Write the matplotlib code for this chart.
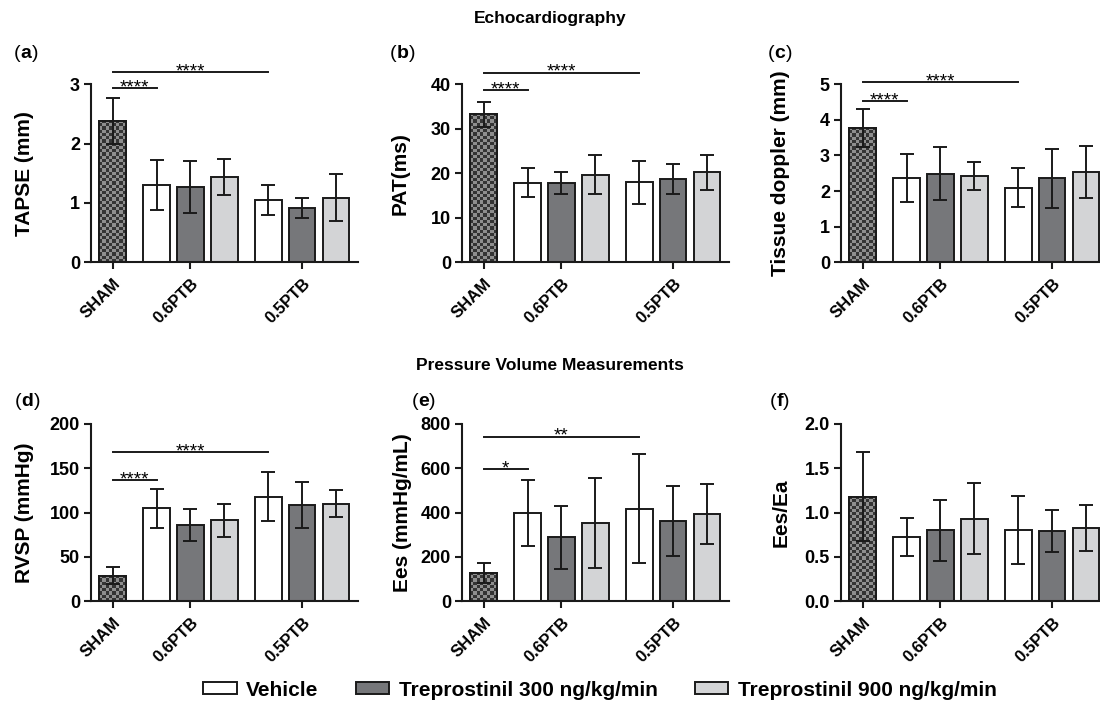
import matplotlib
matplotlib.use("Agg")
import numpy as np
import matplotlib.pyplot as plt
from matplotlib.patches import Patch
from matplotlib.colors import ListedColormap

plt.rcParams['font.family'] = ['Liberation Sans', 'DejaVu Sans']

groups = ['SHAM', '0.6PTB', '0.5PTB']
series = ['Vehicle', 'Treprostinil 300 ng/kg/min', 'Treprostinil 900 ng/kg/min']

# order: SHAM, 0.6PTB (veh, 300, 900), 0.5PTB (veh, 300, 900)
tapse_mean = [2.38, 1.30, 1.27, 1.44, 1.05, 0.92, 1.09]
tapse_err = [0.39, 0.42, 0.44, 0.30, 0.26, 0.17, 0.39]
pat_mean = [33.3, 17.9, 17.8, 19.7, 18.0, 18.8, 20.2]
pat_err = [2.8, 3.2, 2.5, 4.3, 4.85, 3.35, 3.95]
td_mean = [3.77, 2.36, 2.49, 2.43, 2.10, 2.36, 2.53]
td_err = [0.545, 0.675, 0.74, 0.395, 0.55, 0.83, 0.735]
rvsp_mean = [29, 105, 86, 91, 118, 108, 110]
rvsp_err = [9.5, 22, 18.5, 19, 28, 26, 15]
ees_mean = [128, 398, 288, 352, 417, 362, 394]
ees_err = [44, 148, 143, 202, 246, 156, 134]
eesea_mean = [1.18, 0.72, 0.80, 0.93, 0.80, 0.79, 0.83]
eesea_err = [0.50, 0.215, 0.345, 0.40, 0.385, 0.24, 0.26]

panels = [
    dict(tag='a', ylabel='TAPSE (mm)', mean=tapse_mean, err=tapse_err, ymax=3, yticks=[0, 1, 2, 3],
         sig=[(2.94, '****'), (3.2, '****')], fmt='{:.0f}'),
    dict(tag='b', ylabel='PAT(ms)', mean=pat_mean, err=pat_err, ymax=40, yticks=[0, 10, 20, 30, 40],
         sig=[(38.7, '****'), (42.6, '****')], fmt='{:.0f}'),
    dict(tag='c', ylabel='Tissue doppler (mm)', mean=td_mean, err=td_err, ymax=5, yticks=[0, 1, 2, 3, 4, 5],
         sig=[(4.53, '****'), (5.06, '****')], fmt='{:.0f}'),
    dict(tag='d', ylabel='RVSP (mmHg)', mean=rvsp_mean, err=rvsp_err, ymax=200, yticks=[0, 50, 100, 150, 200],
         sig=[(136.6, '****'), (168, '****')], fmt='{:.0f}'),
    dict(tag='e', ylabel='Ees (mmHg/mL)', mean=ees_mean, err=ees_err, ymax=800, yticks=[0, 200, 400, 600, 800],
         sig=[(594, '*'), (741, '**')], fmt='{:.0f}'),
    dict(tag='f', ylabel='Ees/Ea', mean=eesea_mean, err=eesea_err, ymax=2.0, yticks=[0, 0.5, 1.0, 1.5, 2.0],
         sig=[], fmt='{:.1f}'),
]

xpos = [0, 1.3, 2.3, 3.3, 4.6, 5.6, 6.6]
tickpos = [0, 2.3, 5.6]
colors = ['#4a4a4a', 'white', '#76777a', '#d3d4d6', 'white', '#76777a', '#d3d4d6']
sig_spans = [(0, 1.3), (0, 4.6)]
checker_cmap = ListedColormap(['#343434', '#8e8e8e'])

W, H = 1100, 704
fig = plt.figure(figsize=(W / 100, H / 100), dpi=100)
renderer = fig.canvas.get_renderer()

lefts = [91, 462, 841]
tops = [84.3, 423.7]
bottoms = [262.3, 601.3]
axw = 267
label_off = [67, 62, 60, 67, 59, 60]
tag_pos = [(14, 53), (390, 54), (768, 54), (15, 402), (412, 402), (770, 402)]
EC = '#1a1a1a'

for i, p in enumerate(panels):
    r, c = divmod(i, 3)
    ax = fig.add_axes([lefts[c] / W, 1 - bottoms[r] / H, axw / W, (bottoms[r] - tops[r]) / H])
    bars = ax.bar(xpos, p['mean'], width=0.78, color=colors, edgecolor=EC, linewidth=1.4, zorder=2)
    ax.errorbar(xpos, p['mean'], yerr=p['err'], fmt='none', ecolor=EC, elinewidth=1.4,
                capsize=5, capthick=1.4, zorder=4)
    ax.set_xlim(-0.64, 7.25)
    ax.set_ylim(0, p['ymax'])
    # checkered fill for SHAM bar, sized from the bar patch itself
    sb = bars[0]
    bb = sb.get_window_extent(renderer)
    nx = max(2, int(round(bb.width / 3.2)))
    ny = max(2, int(round(bb.height / 3.2)))
    chk = (np.add.outer(np.arange(ny), np.arange(nx)) % 2)
    im = ax.imshow(chk, cmap=checker_cmap, interpolation='nearest', aspect='auto', origin='lower',
                   extent=(sb.get_x(), sb.get_x() + sb.get_width(), 0, sb.get_height()), zorder=2.2)
    ax.bar(xpos[0], p['mean'][0], width=0.78, color='none', edgecolor=EC, linewidth=1.4, zorder=2.6)
    ax.set_xlim(-0.64, 7.25)
    ax.set_ylim(0, p['ymax'])

    ax.set_yticks(p['yticks'])
    ax.set_yticklabels([p['fmt'].format(v) for v in p['yticks']], fontsize=13, fontweight='bold')
    ax.set_xticks(tickpos)
    ax.set_xticklabels(groups, rotation=45, ha='right', rotation_mode='anchor', fontsize=12,
                       fontweight='bold')
    for s in ['top', 'right']:
        ax.spines[s].set_visible(False)
    for s in ['left', 'bottom']:
        ax.spines[s].set_linewidth(1.5)
        ax.spines[s].set_color(EC)
    ax.tick_params(axis='both', direction='out', length=5, width=1.5, color=EC, pad=3)
    ax.tick_params(axis='x', pad=5)
    ax.set_ylabel(p['ylabel'], fontsize=15, fontweight='bold', va='center')
    ax.yaxis.set_label_coords(-label_off[i] / axw, 0.5)
    for (yv, st), (x0, x1) in zip(p['sig'], sig_spans):
        ax.plot([x0, x1], [yv, yv], color=EC, lw=1.4, clip_on=False, zorder=4)
        ax.annotate(st, ((x0 + x1) / 2, yv), xytext=(0, -3), textcoords='offset points',
                    ha='center', va='baseline', fontsize=13.5, annotation_clip=False)
    # panel tag "(x)" with bold letter
    lx, ly = tag_pos[i]
    t1 = fig.text(lx / W, 1 - ly / H, '(', fontsize=14, va='center', ha='left')
    e1 = t1.get_window_extent(renderer)
    t2 = fig.text(e1.x1 / W, 1 - ly / H, p['tag'], fontsize=14, fontweight='bold', va='center', ha='left')
    e2 = t2.get_window_extent(renderer)
    fig.text(e2.x1 / W, 1 - ly / H, ')', fontsize=14, va='center', ha='left')

fig.text(550 / W, 1 - 18 / H, 'Echocardiography', ha='center', va='center', fontsize=12.5,
         fontweight='bold')
fig.text(550 / W, 1 - 366 / H, 'Pressure Volume Measurements', ha='center', va='center', fontsize=12.5,
         fontweight='bold')

handles = [Patch(facecolor=fc, edgecolor=EC, linewidth=1.4) for fc in ['white', '#76777a', '#d3d4d6']]
fig.legend(handles, series, loc='center', bbox_to_anchor=(600 / W, 1 - 690 / H), ncol=3, frameon=False,
           prop=dict(size=15, weight='bold'), handlelength=1.6, handleheight=0.45, handletextpad=0.45,
           columnspacing=1.8, borderpad=0.2)

fig.savefig('out.png', dpi=100)
